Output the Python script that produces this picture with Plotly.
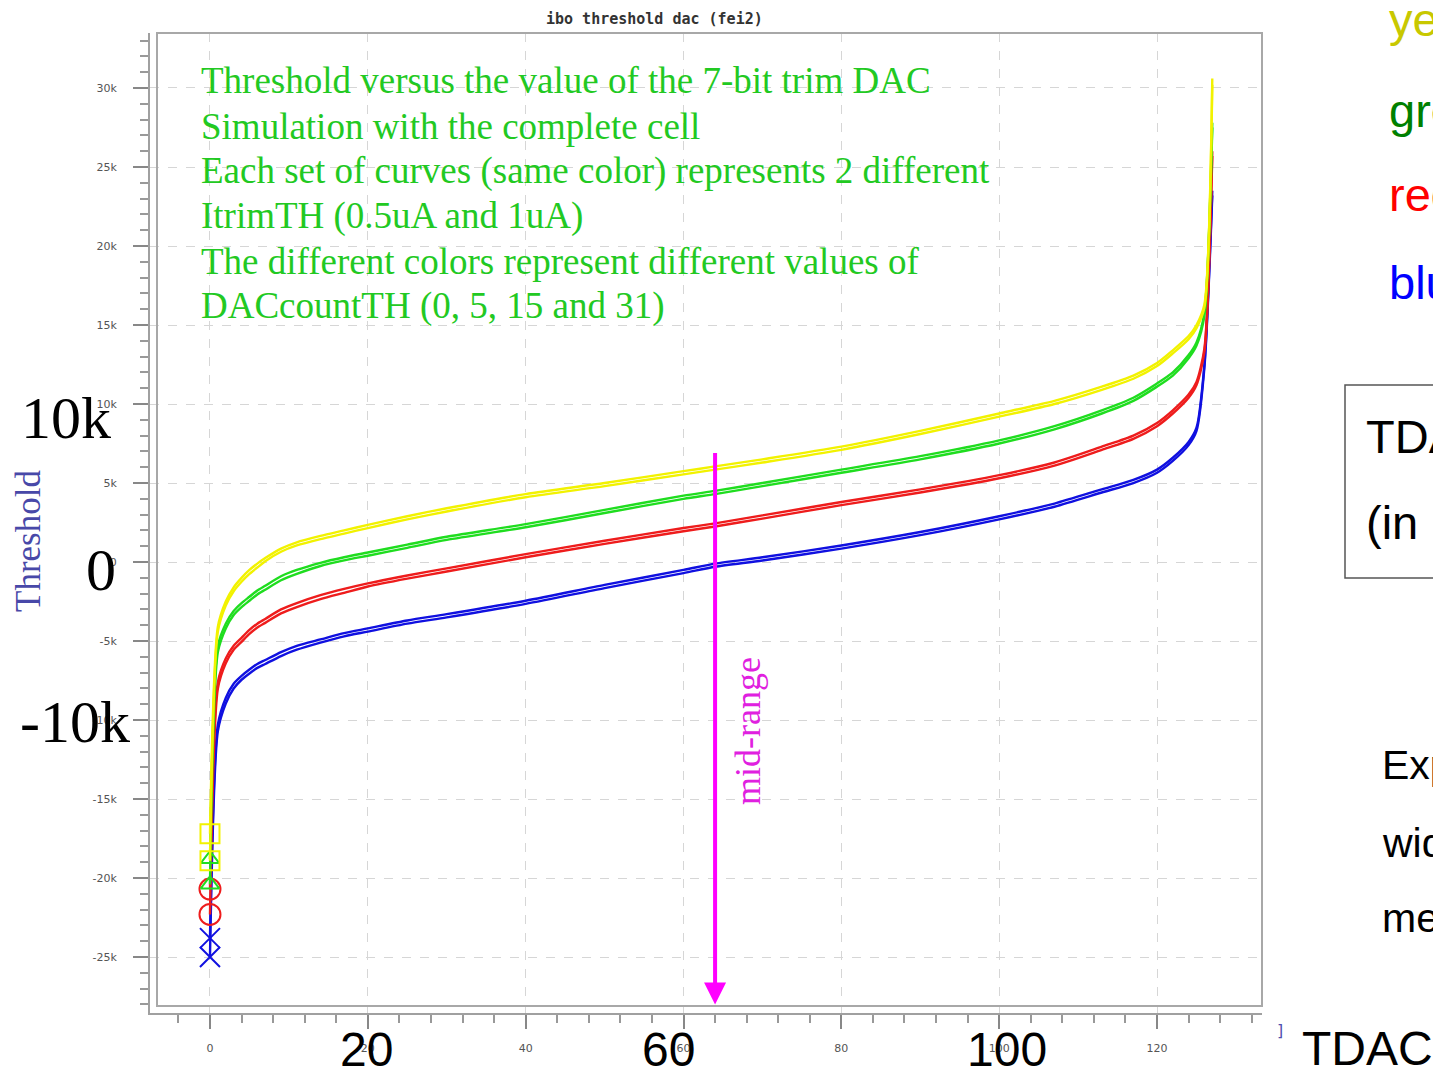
import plotly.graph_objects as go

# ---------------- data ----------------
tdac = [0, 1, 2, 3, 4, 5, 6, 7, 9, 11, 14, 17, 20, 25, 30, 40, 50, 60, 64, 70, 80, 90, 100, 107, 113, 117, 120, 122, 124, 125, 126, 127]

yellow_1uA = [-17200, -4100, -2500, -1600, -1000, -500, -100, 250, 850, 1250, 1650, 2000, 2350, 2900, 3400, 4300, 5000, 5750, 6050, 6500, 7300, 8300, 9400, 10200, 11100, 11800, 12600, 13400, 14300, 15000, 16300, 30600]
yellow_05uA = [-18900, -4400, -2750, -1850, -1250, -750, -350, 50, 650, 1050, 1450, 1800, 2150, 2700, 3200, 4100, 4800, 5550, 5850, 6300, 7100, 8100, 9200, 10000, 10900, 11600, 12400, 13200, 14100, 14800, 16100, 30200]

green_1uA = [-18800, -5300, -3900, -3100, -2600, -2200, -1800, -1500, -900, -500, -50, 300, 600, 1100, 1600, 2400, 3300, 4200, 4500, 5000, 5850, 6700, 7700, 8600, 9600, 10400, 11300, 12000, 13100, 13900, 15800, 27800]
green_05uA = [-20400, -5700, -4200, -3350, -2850, -2450, -2050, -1750, -1150, -750, -250, 100, 400, 900, 1400, 2200, 3100, 4000, 4300, 4800, 5650, 6500, 7500, 8400, 9400, 10200, 11100, 11800, 12900, 13700, 15600, 27500]

red_1uA = [-20700, -7600, -6100, -5300, -4800, -4300, -3900, -3600, -3000, -2600, -2100, -1700, -1350, -850, -400, 500, 1350, 2150, 2450, 2950, 3800, 4600, 5500, 6300, 7300, 8000, 8800, 9600, 10600, 11400, 13500, 26000]
red_05uA = [-22300, -8000, -6400, -5550, -5050, -4550, -4150, -3850, -3250, -2850, -2350, -1950, -1550, -1050, -600, 300, 1150, 1950, 2250, 2750, 3600, 4400, 5300, 6100, 7100, 7800, 8600, 9400, 10400, 11200, 13300, 25700]

blue_1uA = [-23800, -10300, -8600, -7700, -7200, -6800, -6450, -6200, -5700, -5300, -4900, -4500, -4200, -3700, -3300, -2450, -1450, -500, -100, 300, 1050, 1900, 2900, 3700, 4600, 5200, 5850, 6600, 7600, 8500, 12500, 23500]
blue_05uA = [-25000, -10700, -8950, -8000, -7450, -7050, -6700, -6450, -5950, -5550, -5100, -4700, -4400, -3900, -3500, -2650, -1650, -700, -300, 100, 850, 1700, 2700, 3500, 4400, 5000, 5650, 6400, 7400, 8300, 12300, 23200]

y_tickvals = [-25000, -20000, -15000, -10000, -5000, 0, 5000, 10000, 15000, 20000, 25000, 30000]
y_ticktext = ["-25k", "-20k", "-15k", "-10k", "-5k", "0", "5k", "10k", "15k", "20k", "25k", "30k"]
x_tickvals = [0, 20, 40, 60, 80, 100, 120]
x_ticktext = ["0", "20", "40", "60", "80", "100", "120"]

mid_range_tdac = 64
mid_range_top = 7000

notes = [
    "Threshold versus the value of the 7-bit trim DAC",
    "Simulation with the complete cell",
    "Each set of curves (same color) represents 2 different",
    "ItrimTH (0.5uA and 1uA)",
    "The different colors represent different values of",
    "DACcountTH (0, 5, 15 and 31)",
]

# ---------------- geometry ----------------
W, H = 1433, 1070
L, R, T, B = 150, 1262, 33, 1013


def px(x):
    return (x - L) / (R - L)


def py(y):
    return (B - y) / (B - T)


fig = go.Figure()

series = [
    ("#1010e0", blue_1uA, blue_05uA, "x-thin-open", 20),
    ("#ee1c1c", red_1uA, red_05uA, "circle-open", 21),
    ("#1fdd1f", green_1uA, green_05uA, "triangle-up-open", 16),
    ("#f2f200", yellow_1uA, yellow_05uA, "square-open", 19),
]

for color, a, b, sym, size in series:
    for vals in (b, a):
        fig.add_trace(go.Scatter(x=tdac, y=vals, mode="lines",
                                 line=dict(color=color, width=2.4, shape="spline", smoothing=0.7),
                                 hoverinfo="skip"))
    for vals in (a, b):
        fig.add_trace(go.Scatter(x=[tdac[0]], y=[vals[0]], mode="markers",
                                 marker=dict(symbol=sym, size=size, color=color,
                                             line=dict(color=color, width=2)),
                                 hoverinfo="skip"))

ann = []
# title
ann.append(dict(text="<b>ibo threshold dac (fei2)</b>", x=px(654), y=py(19), xref="paper", yref="paper",
                showarrow=False, font=dict(family="DejaVu Sans Mono", size=15, color="#333333"),
                xanchor="center", yanchor="middle"))

# green note lines
note_y = [80, 126, 171, 216, 261, 306]
for line, yy in zip(notes, note_y):
    ann.append(dict(text=line, x=px(199), y=py(yy), xref="paper", yref="paper", showarrow=False,
                    font=dict(family="Liberation Serif", size=37, color="#22c922"),
                    xanchor="left", yanchor="middle"))

# mid-range arrow
ann.append(dict(x=mid_range_tdac, y=-28000, ax=mid_range_tdac, ay=mid_range_top,
                xref="x", yref="y", axref="x", ayref="y", text="", showarrow=True,
                arrowhead=2, arrowsize=1.1, arrowwidth=4, arrowcolor="#ff00ff"))
ann.append(dict(text="mid-range", x=px(748), y=py(731), xref="paper", yref="paper", showarrow=False,
                textangle=-90, font=dict(family="Liberation Serif", size=36, color="#e020e0"),
                xanchor="center", yanchor="middle"))

# big slide overlay labels
big_serif = dict(family="Liberation Serif", size=60, color="black")
for txt, x, y in [("10k", 66, 418), ("0", 101, 570), ("-10k", 75, 722)]:
    ann.append(dict(text=txt, x=px(x), y=py(y), xref="paper", yref="paper", showarrow=False,
                    font=big_serif, xanchor="center", yanchor="middle"))
big_sans = dict(family="Liberation Sans", size=48, color="black")
for txt, x in [("20", 366), ("60", 668), ("100", 1007)]:
    ann.append(dict(text=txt, x=px(x), y=py(1049), xref="paper", yref="paper", showarrow=False,
                    font=big_sans, xanchor="center", yanchor="middle"))
ann.append(dict(text="TDAC", x=px(1300), y=py(1048), xref="paper", yref="paper", showarrow=False,
                font=big_sans, xanchor="left", yanchor="middle"))
ann.append(dict(text="Threshold", x=px(28), y=py(541), xref="paper", yref="paper", showarrow=False,
                textangle=-90, font=dict(family="Liberation Serif", size=35, color="#4848a8"),
                xanchor="center", yanchor="middle"))
ann.append(dict(text="]", x=px(1280), y=py(1030), xref="paper", yref="paper", showarrow=False,
                font=dict(family="DejaVu Sans", size=16, color="#5050b0"), xanchor="center", yanchor="middle"))

# right side slide text (clipped by page edge)
side = dict(family="Liberation Sans", size=47)
for txt, col, yy in [("yellow", "#c8c800", 20), ("green", "#008000", 110),
                     ("red", "#ff0000", 195), ("blue", "#0000ff", 283)]:
    ann.append(dict(text=txt, x=px(1387), y=py(yy), xref="paper", yref="paper", showarrow=False,
                    font=dict(side, color=col), xanchor="left", yanchor="middle"))
for txt, yy in [("TDAC", 437), ("(in", 522)]:
    ann.append(dict(text=txt, x=px(1364), y=py(yy), xref="paper", yref="paper", showarrow=False,
                    font=dict(side, color="black"), xanchor="left", yanchor="middle"))
for txt, yy in [("Exp", 765), ("wid", 843), ("me", 918)]:
    ann.append(dict(text=txt, x=px(1380), y=py(yy), xref="paper", yref="paper", showarrow=False,
                    font=dict(family="Liberation Sans", size=41, color="black"), xanchor="left", yanchor="middle"))

shapes = [
    dict(type="rect", xref="paper", yref="paper", x0=px(157), x1=px(1262), y0=py(1006), y1=py(33),
         line=dict(color="#a8a8a8", width=2), layer="above"),
    dict(type="rect", xref="paper", yref="paper", x0=px(1345), x1=px(1460), y0=py(578), y1=py(385),
         line=dict(color="#555555", width=1.5)),
]

fig.update_layout(
    width=W, height=H,
    margin=dict(l=L, r=W - R, t=T, b=H - B),
    paper_bgcolor="white", plot_bgcolor="white",
    showlegend=False,
    annotations=ann, shapes=shapes,
    xaxis=dict(range=[-7.6, 133.3], tickvals=x_tickvals, ticktext=x_ticktext,
               showgrid=True, gridcolor="#d6d6d6", griddash="dash", gridwidth=1,
               zeroline=False, showline=True, linecolor="#a0a0a0", linewidth=2,
               ticks="outside", ticklen=14, tickcolor="#888888", tickwidth=1.5,
               ticklabelstandoff=10,
               minor=dict(dtick=4, tick0=0, ticks="outside", ticklen=8, tickcolor="#999999", showgrid=False),
               tickfont=dict(family="DejaVu Sans", size=11, color="#555555")),
    yaxis=dict(range=[-28540, 33480], tickvals=y_tickvals, ticktext=y_ticktext,
               showgrid=True, gridcolor="#d6d6d6", griddash="dash", gridwidth=1,
               zeroline=False, showline=True, linecolor="#a0a0a0", linewidth=2,
               ticks="outside", ticklen=15, tickcolor="#888888", tickwidth=1.5,
               ticklabelstandoff=14,
               minor=dict(dtick=1000, tick0=0, ticks="outside", ticklen=8, tickcolor="#999999", showgrid=False),
               tickfont=dict(family="DejaVu Sans", size=11, color="#555555")),
)

fig.write_html("out.html")
